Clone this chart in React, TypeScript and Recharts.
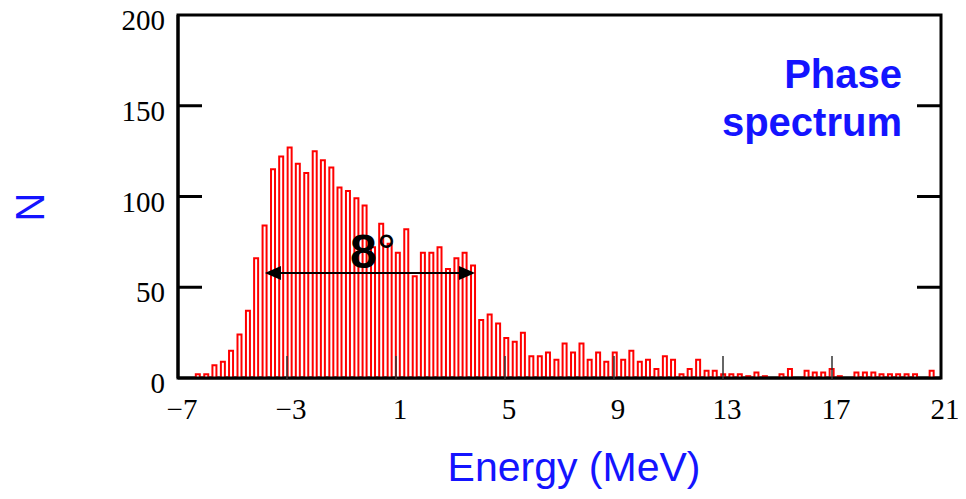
import React from "react";
import {
  BarChart,
  Bar,
  XAxis,
  YAxis,
  ReferenceArea,
  ReferenceLine,
  ReferenceDot,
} from "recharts";

// bin centres (MeV) and counts
const ENERGY = [
  -6.27, -5.96, -5.66, -5.35, -5.05, -4.74, -4.43, -4.13, -3.82, -3.51,
  -3.21, -2.9, -2.6, -2.29, -1.98, -1.68, -1.37, -1.07, -0.76, -0.45,
  -0.15, 0.16, 0.46, 0.77, 1.07, 1.38, 1.69, 1.99, 2.3, 2.6,
  2.91, 3.22, 3.52, 3.83, 4.13, 4.44, 4.75, 5.05, 5.36, 5.66,
  5.97, 6.28, 6.58, 6.89, 7.19, 7.5, 7.81, 8.11, 8.42, 8.72,
  9.03, 9.34, 9.64, 9.95, 10.25, 10.56, 10.87, 11.17, 11.48, 11.78,
  12.09, 12.4, 12.7, 13.01, 13.31, 13.62, 13.93, 14.23, 14.54, 14.84,
  15.15, 15.46, 15.76, 16.07, 16.37, 16.68, 16.99, 17.29, 17.6, 17.9,
  18.21, 18.52, 18.82, 19.13, 19.43, 19.74, 20.05, 20.35, 20.66,
];

const COUNTS = [
  2, 2, 7, 9, 15, 24, 37, 66, 84, 115,
  122, 127, 118, 113, 125, 120, 116, 105, 103, 99,
  95, 72, 85, 74, 69, 82, 56, 69, 69, 72,
  60, 66, 69, 62, 32, 35, 30, 22, 20, 25,
  12, 12, 14, 10, 19, 14, 19, 10, 14, 9,
  14, 10, 15, 9, 10, 5, 12, 10, 2, 5,
  10, 4, 4, 2, 2, 2, 1, 3, 1, 0,
  2, 5, 0, 4, 3, 3, 5, 1, 0, 3,
  3, 3, 2, 2, 2, 2, 2, 0, 4,
];

const X_TICKS = [-7, -3, 1, 5, 9, 13, 17, 21];
const Y_TICKS = [0, 50, 100, 150, 200];

// 8 degree window marked with the arrow
const WINDOW = { from: -3.81, to: 3.9, level: 57.9 };

// svg is pulled up over the body margin so the top label has room
const SHIFT = 8;
const W = 950;
const H = 491;
const MARGIN = { top: 7 + SHIFT, right: 17, left: 110, bottom: 73 };
const Y_W = 60;
const PLOT_LEFT = MARGIN.left + Y_W;
const PLOT_RIGHT = W - MARGIN.right;
const TICK_LEN = 24;

const BLUE = "#1414ff";
const SERIF = "'Liberation Serif', 'Times New Roman', serif";
const SANS = "'Liberation Sans', Arial, sans-serif";

const rows = ENERGY.map((e, i) => ({ energy: e, n: COUNTS[i] }));

const fmt = (v: number) => (v < 0 ? "\u2212" + Math.abs(v) : String(v));

function YTick(props: any) {
  const { x, y, payload } = props;
  const v = payload.value;
  const inner = v !== 0 && v !== 200;
  return (
    <g>
      {inner && (
        <>
          <line x1={PLOT_LEFT} x2={PLOT_LEFT + TICK_LEN} y1={y} y2={y} stroke="#000" strokeWidth={3} />
          <line x1={PLOT_RIGHT - TICK_LEN} x2={PLOT_RIGHT} y1={y} y2={y} stroke="#000" strokeWidth={3} />
        </>
      )}
      <text x={x} y={y + 15} textAnchor="end" fontFamily={SERIF} fontSize={29} fill="#000">
        {v}
      </text>
    </g>
  );
}

function XTick(props: any) {
  const { x, y, payload } = props;
  const v = payload.value;
  const inner = v !== -7 && v !== 21;
  return (
    <g>
      {inner && (
        <line x1={x} x2={x} y1={y} y2={y - TICK_LEN} stroke="#333" strokeWidth={1.5} />
      )}
      <text x={x + 4} y={y + 39} textAnchor="middle" fontFamily={SERIF} fontSize={29} fill="#000">
        {fmt(v)}
      </text>
    </g>
  );
}

function Arrow(props: any) {
  const { x1, y1, x2, y2 } = props;
  const hl = 16;
  const hw = 7;
  return (
    <g>
      <line x1={x1 + hl - 2} x2={x2 - hl + 2} y1={y1} y2={y2} stroke="#000" strokeWidth={2} />
      <polygon points={`${x1},${y1} ${x1 + hl},${y1 - hw} ${x1 + hl},${y1 + hw}`} fill="#000" />
      <polygon points={`${x2},${y2} ${x2 - hl},${y2 - hw} ${x2 - hl},${y2 + hw}`} fill="#000" />
    </g>
  );
}

function AngleLabel(props: any) {
  const { cx, cy } = props;
  return (
    <text x={cx} y={cy} fontFamily={SANS} fontWeight="bold" fontSize={48} fill="#000">
      8<tspan fontWeight="normal">°</tspan>
    </text>
  );
}

export default function App() {
  return (
    <div style={{ position: "relative", top: -SHIFT, width: W, height: H }}>
      <BarChart width={W} height={H} data={rows} margin={MARGIN}>
        <XAxis
          dataKey="energy"
          type="number"
          domain={[-7, 21]}
          ticks={X_TICKS}
          interval={0}
          tickSize={0}
          tickLine={false}
          axisLine={{ stroke: "#000", strokeWidth: 3 }}
          tick={(p: any) => <XTick {...p} />}
          height={40}
        />
        <YAxis
          type="number"
          domain={[0, 200]}
          ticks={Y_TICKS}
          interval={0}
          tickSize={0}
          tickMargin={13}
          tickLine={false}
          axisLine={{ stroke: "#000", strokeWidth: 3 }}
          tick={(p: any) => <YTick {...p} />}
          width={Y_W}
        />
        <Bar
          dataKey="n"
          fill="#fff"
          stroke="#ff0000"
          strokeWidth={2}
          barSize={4}
          isAnimationActive={false}
        />
        <ReferenceArea
          x1={-7}
          x2={21}
          y1={0}
          y2={200}
          fill="none"
          stroke="#000"
          strokeWidth={3}
          ifOverflow="visible"
        />
        <ReferenceLine
          segment={[
            { x: WINDOW.from, y: WINDOW.level },
            { x: WINDOW.to, y: WINDOW.level },
          ]}
          shape={(p: any) => <Arrow {...p} />}
          ifOverflow="visible"
        />
        <ReferenceDot x={-0.69} y={60.6} r={0} shape={(p: any) => <AngleLabel {...p} />} ifOverflow="visible" />
      </BarChart>
      <svg
        width={W}
        height={H}
        style={{ position: "absolute", left: 0, top: 0, pointerEvents: "none" }}
      >
        <text
          transform={`translate(22,${199 + SHIFT}) rotate(-90)`}
          y={14}
          textAnchor="middle"
          fontFamily={SANS}
          fontSize={40}
          fill={BLUE}
        >
          N
        </text>
        <text x={566} y={473 + SHIFT} textAnchor="middle" fontFamily={SANS} fontSize={41} fill={BLUE}>
          Energy (MeV)
        </text>
        <text x={894} y={80 + SHIFT} textAnchor="end" fontFamily={SANS} fontWeight="bold" fontSize={40} fill={BLUE}>
          Phase
        </text>
        <text x={894} y={128 + SHIFT} textAnchor="end" fontFamily={SANS} fontWeight="bold" fontSize={40} fill={BLUE}>
          spectrum
        </text>
      </svg>
    </div>
  );
}
